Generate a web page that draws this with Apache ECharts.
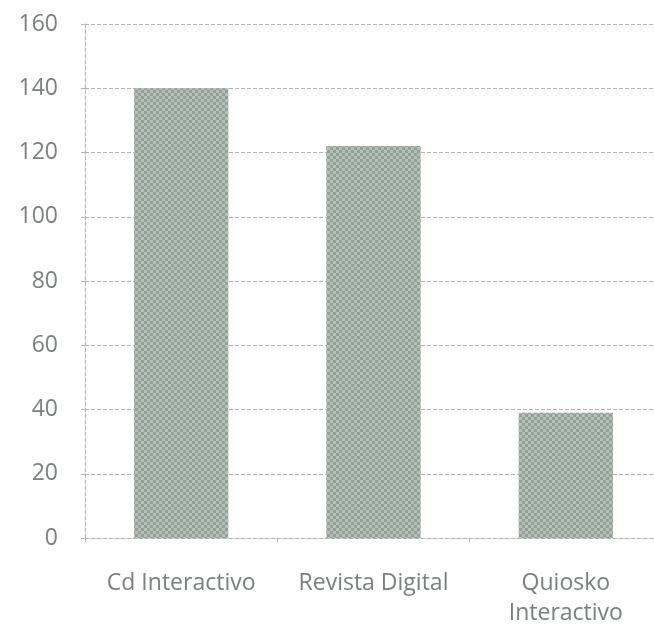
<!DOCTYPE html>
<html>
<head>
<meta charset="utf-8">
<script src="https://cdn.jsdelivr.net/npm/echarts@6/dist/echarts.min.js"></script>
<style>
  html, body { margin: 0; padding: 0; background: #fff; overflow: hidden; }
  /* the plot area runs a few pixels past the right edge of the window */
  #chart { width: 662px; height: 628px; }
</style>
</head>
<body>
<div id="chart"></div>
<script>
// Categories and values
const categories = ['Cd Interactivo', 'Revista Digital', 'Quiosko\nInteractivo'];
const values = [140, 122, 39];
const yTicks = { min: 0, max: 160, interval: 20 };

const chart = echarts.init(document.getElementById('chart'), null, { renderer: 'canvas' });

const textColor = '#7a817c';
const gridColor = '#b0b4b1';
const labelFont = 'Open Sans';

chart.setOption({
  backgroundColor: '#ffffff',
  animation: false,
  grid: { left: 85, right: 0, top: 24, bottom: 87, containLabel: false },
  xAxis: {
    type: 'category',
    data: categories,
    axisLine: { show: true, lineStyle: { color: gridColor, type: 'dashed', width: 1 } },
    axisTick: { show: true, length: 4, lineStyle: { color: gridColor } },
    axisLabel: {
      color: textColor,
      fontFamily: labelFont,
      fontSize: 23,
      margin: 30,
      lineHeight: 30,
      interval: 0
    }
  },
  yAxis: {
    type: 'value',
    min: yTicks.min,
    max: yTicks.max,
    interval: yTicks.interval,
    axisLine: { show: true, lineStyle: { color: gridColor, type: 'dashed', width: 1 } },
    axisTick: { show: true, length: 6, lineStyle: { color: gridColor, type: 'dashed' } },
    axisLabel: {
      color: textColor,
      fontFamily: labelFont,
      fontSize: 23,
      margin: 27
    },
    splitLine: { show: true, lineStyle: { color: gridColor, type: 'dashed', width: 1 } }
  },
  series: [{
    type: 'bar',
    data: values,
    barWidth: '49%',
    itemStyle: {
      color: '#b5c0b8',
      decal: {
        symbol: 'rect',
        symbolSize: 1,
        dashArrayX: [[3, 3], [0, 3, 3, 0]],
        dashArrayY: [3, 0],
        rotation: 0,
        color: 'rgba(125,139,129,0.6)'
      }
    }
  }]
});
</script>
</body>
</html>
